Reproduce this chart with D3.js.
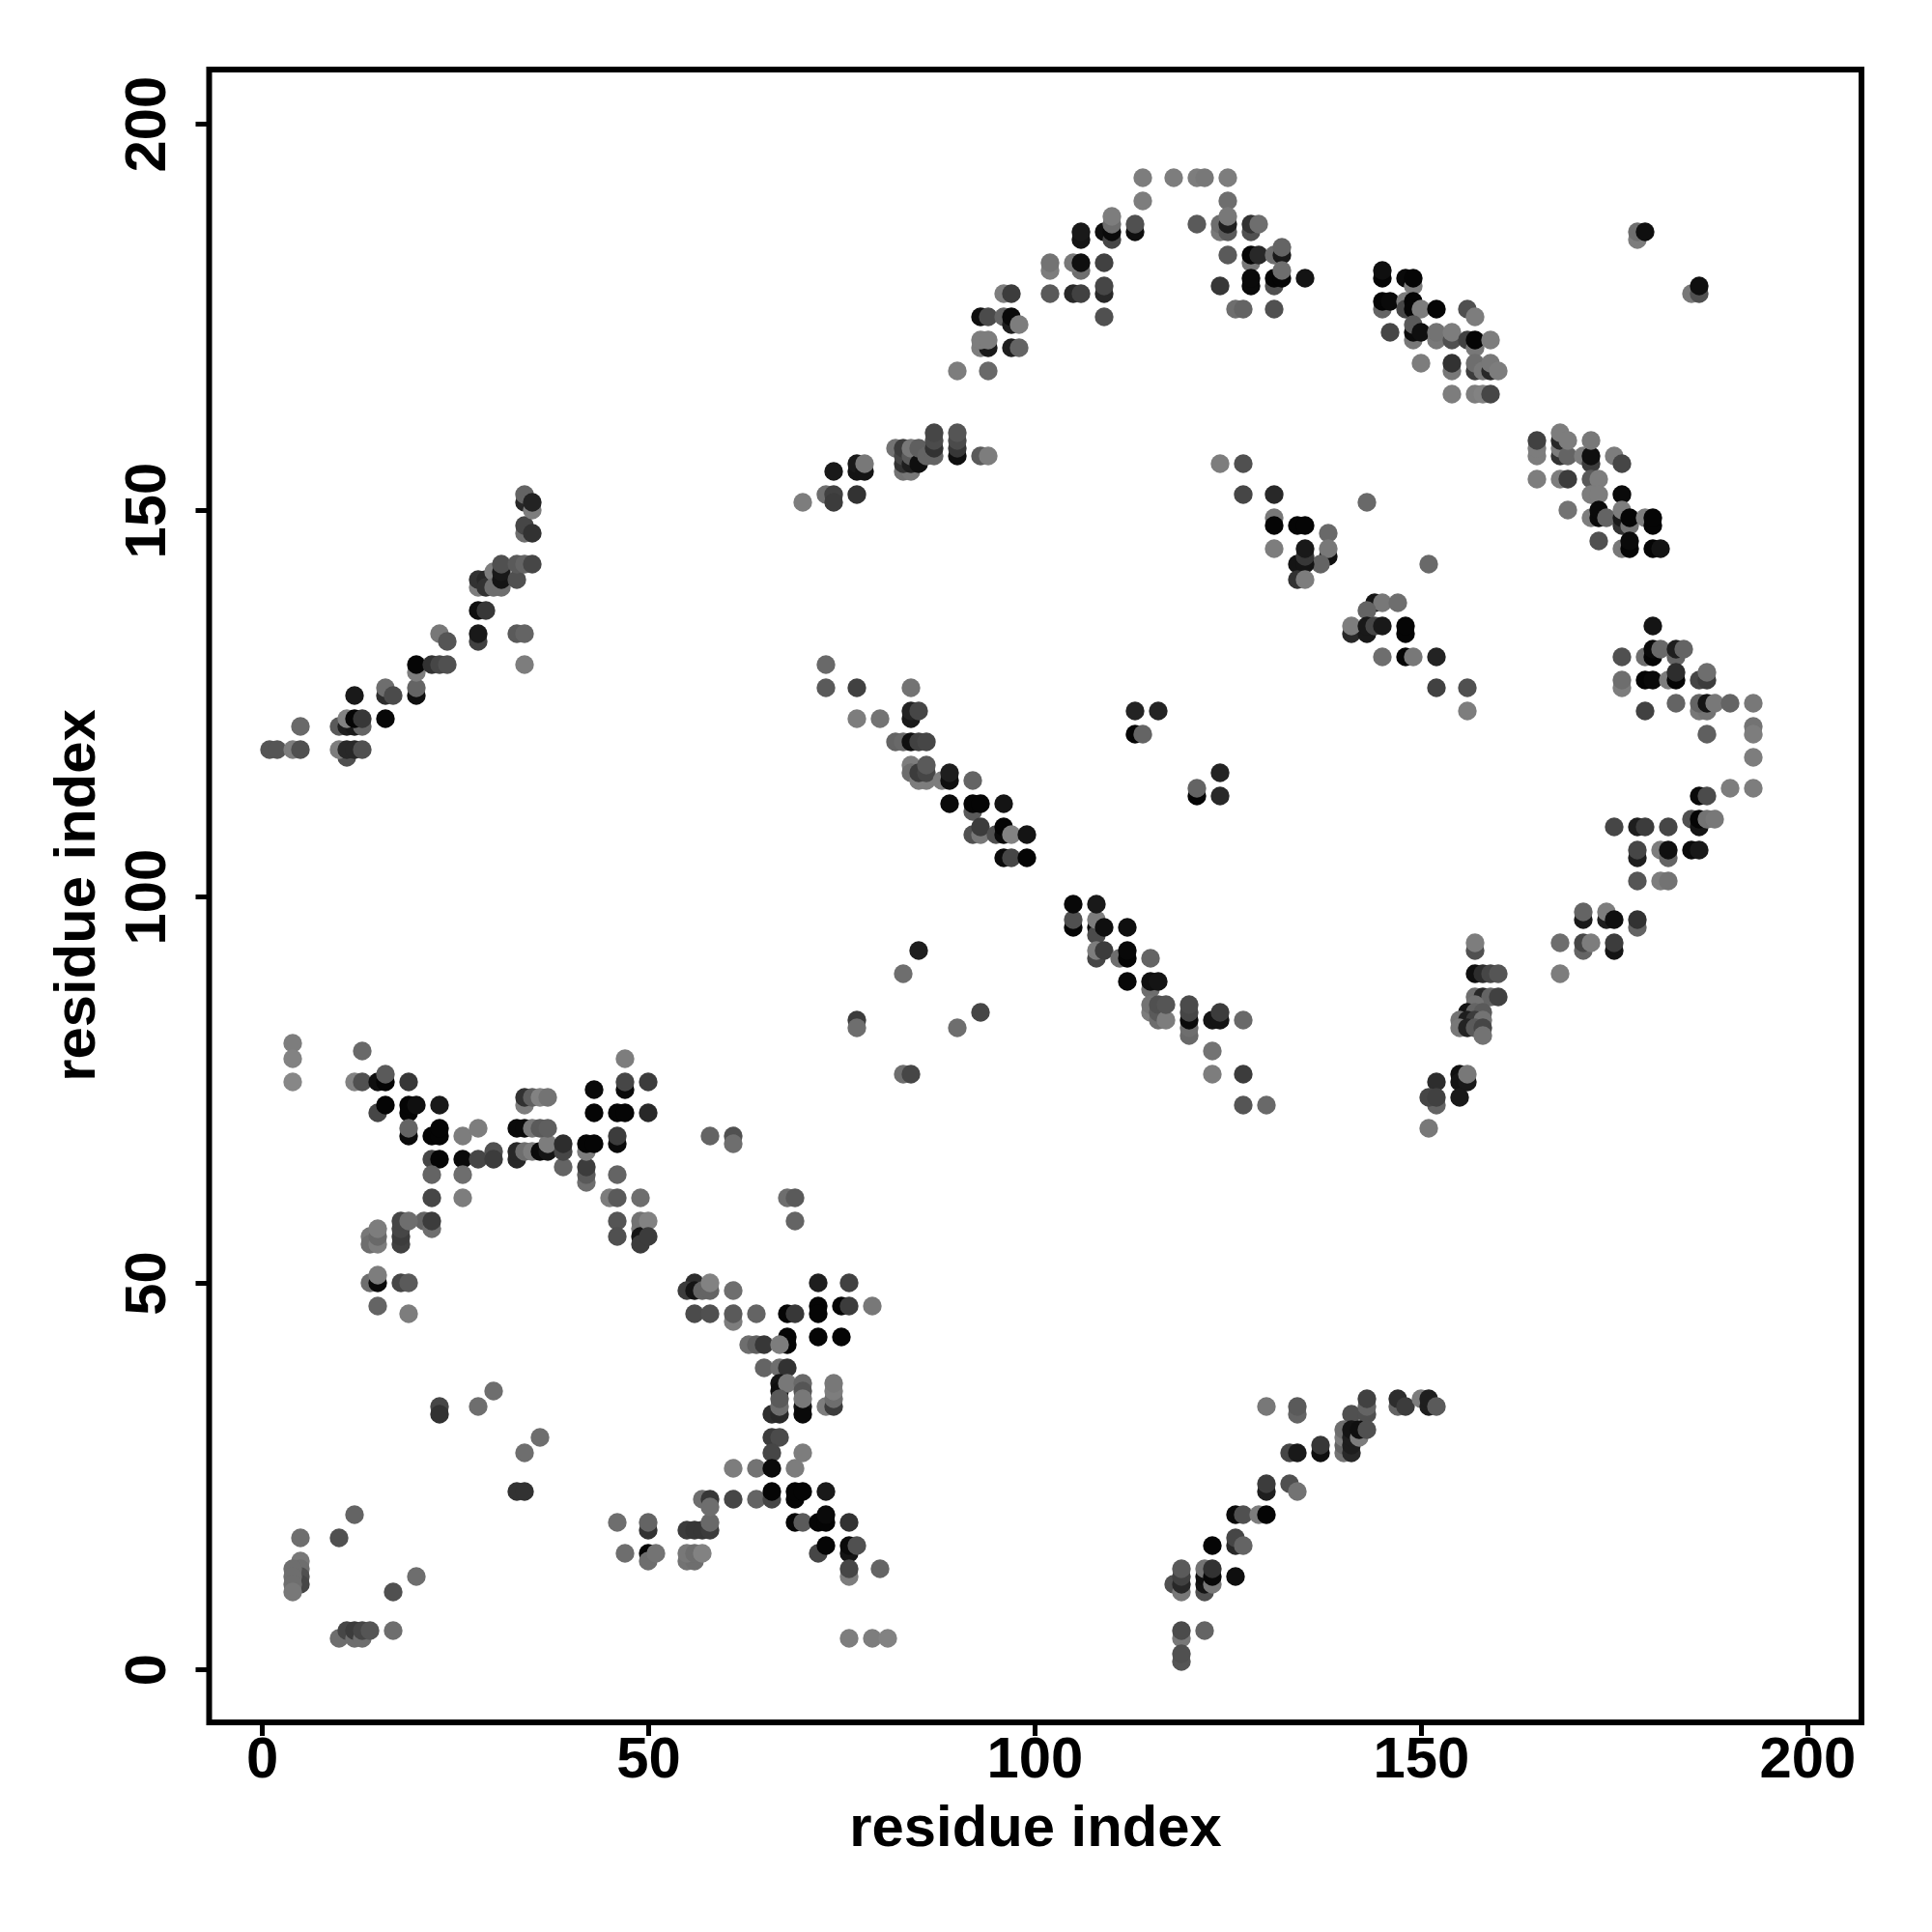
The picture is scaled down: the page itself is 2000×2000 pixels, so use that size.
<!DOCTYPE html>
<html><head><meta charset="utf-8">
<script src="https://cdnjs.cloudflare.com/ajax/libs/d3/7.8.5/d3.min.js"></script>
<style>html,body{margin:0;background:#fff}</style></head>
<body><div id="chart"></div>
<script>
// each contact: [residue i, residue j, level] (level 0 = darkest, 135 = palest)
const tickValues = [0, 50, 100, 150, 200];
const axisLabel = "residue index";
const bowtieLow = [
[4,81,125],[4,79,130],[4,76,135],[13,80,105],[12,76,130],[13,76,80],[15,76,15],[16,76,5],[16,77,90],[19,76,55],
[15,72,70],[16,73,5],[19,72,5],[19,73,5],[20,73,15],[23,73,25],[19,69,10],[19,70,100],[22,69,5],[23,69,5],[23,70,5],[26,69,125],[28,70,125],
[22,66,70],[23,66,5],[26,66,10],[28,66,70],[30,67,80],[30,66,60],[33,66,40],[33,67,40],[34,67,110],[35,67,125],[36,67,10],[37,67,20],[37,68,125],
[33,70,10],[34,70,10],[35,70,120],[36,70,90],[37,70,95],[34,73,125],[34,74,50],[35,74,95],[36,74,130],[37,74,115],
[39,65,100],[39,67,70],[39,68,45],[42,63,110],[42,64,90],[42,65,60],[42,67,125],[42,68,5],[43,68,5],[43,75,10],[43,72,5],
[46,72,5],[47,72,5],[47,75,10],[47,76,70],[47,79,125],[50,76,60],[50,72,40],[46,68,10],[46,69,60],[46,64,100],[45,61,125],[46,61,90],[49,61,110],
[46,58,85],[46,56,80],[49,57,120],[49,58,115],[49,56,20],[49,55,60],[50,58,130],[50,56,60],
[22,64,100],[26,64,110],[22,61,70],[26,61,125],[21,58,100],[22,57,110],[22,58,60],[18,55,65],[18,56,60],[18,57,70],[18,58,70],[19,58,110],
[14,56,120],[14,55,110],[15,55,125],[15,56,105],[15,57,125],[14,50,110],[15,50,10],[15,51,125],[18,50,70],[19,50,90],[15,47,100],[19,46,125]
];
const bowtieMid = [
[50,18,50],[50,19,100],[50,15,5],[50,14,110],[51,15,115],[55,18,60],[56,18,55],[57,18,55],[58,18,60],[58,19,105],[57,22,110],[58,22,55],[58,21,110],
[61,22,70],[64,22,100],[66,22,70],[66,23,5],[55,14,115],[56,14,110],[55,15,120],[56,15,110],[57,15,130],
[56,50,45],[72,50,30],[76,50,65],[55,49,60],[56,49,20],[57,49,100],[58,49,100],[58,50,130],[61,49,110],[56,46,75],[58,46,80],[61,45,125],[61,46,90],[64,46,100],
[68,46,5],[69,46,55],[72,47,5],[72,46,5],[75,47,5],[76,47,60],[79,47,120],[68,43,5],[68,42,5],[72,43,5],[75,43,5],[63,42,110],[64,42,95],[65,42,55],[67,42,125],
[65,39,100],[67,39,110],[68,39,50],[67,37,20],[67,36,15],[68,37,120],[70,34,20],[70,33,10],[70,37,105],[70,36,85],[70,35,120],[66,33,45],[67,33,40],[67,34,110],[67,35,90],
[73,34,125],[74,34,60],[74,35,110],[74,36,125],[74,37,120],[66,30,60],[67,30,75],[66,28,70],[70,28,125],[61,26,125],[64,26,115],[66,26,10],[69,26,125],
[69,22,5],[69,23,5],[70,23,5],[73,23,25],[69,19,5],[70,19,90],[72,19,5],[73,19,5],[73,20,10],[76,19,50],[72,15,70],[73,16,5],[76,15,20],[76,16,10],[77,16,80],
[76,12,125],[76,13,70],[80,13,100],[76,4,125],[79,4,125],[81,4,130]
];
const scatterLow = [
[23,34,70],[23,33,50],[28,34,110],[30,36,110],[36,30,110],[34,28,110],[33,23,50],[34,23,50],[5,17,110],[5,14,120],[5,13,110],[5,12,80],[5,11,70],
[4,13,110],[4,12,110],[4,11,110],[4,10,120],[10,17,80],[12,20,100],[20,12,110],[17,10,80],[10,4,110],[11,5,70],[12,4,110],[12,5,60],[13,4,110],[13,5,70],[14,5,85],[17,5,110],
[46,19,110],[47,15,110],[58,69,100],[61,69,80],[61,68,110],[68,61,110],[69,61,90],[69,58,100]
];
const strandLeft = [
[1,119,85],[2,119,85],[4,119,125],[5,119,80],[5,122,105],[11,118,80],[10,119,125],[11,119,40],[12,119,40],[13,119,80],
[10,122,90],[11,122,30],[12,122,25],[13,122,100],[11,123,130],[12,123,5],[13,123,55],[12,126,25],[16,126,45],[16,127,110],[17,126,75],[16,123,8],
[20,126,15],[20,127,100],[20,129,125],[20,130,5],[22,130,50],[23,130,70],[24,130,80],[23,134,120],[24,133,85],
[28,133,65],[28,134,25],[28,137,15],[29,137,55],[33,134,90],[34,134,100],[34,130,125],
[28,140,125],[28,141,50],[29,141,40],[29,140,50],[30,142,125],[30,140,110],[31,140,110],[31,141,20],[31,142,25],[31,143,80],[33,141,80],[33,143,90],[34,143,100],[35,143,70],
[34,147,110],[34,148,70],[35,147,50],[34,151,40],[35,150,125],[34,152,100],[35,151,35]
];
const arcTop = [
[70,151,125],[73,152,110],[74,152,65],[74,151,60],[77,152,50],[74,155,25],[77,155,20],[77,156,25],[78,155,20],[78,156,120],
[82,158,115],[83,155,115],[84,155,120],[83,156,50],[83,157,70],[83,158,60],[84,156,30],[84,157,90],[84,158,120],[85,156,15],[85,158,95],[86,157,100],
[87,157,100],[87,158,50],[87,159,75],[87,160,70],[90,157,15],[90,158,55],[90,159,75],[90,160,85],[93,157,90],[94,157,125],
[90,168,125],[94,168,105],[93,171,125],[94,171,25],[93,172,125],[94,172,125],[93,175,15],[94,175,75],[96,175,100],[97,174,30],[97,175,10],[98,174,125],[97,171,30],[98,171,100],[96,178,125],[97,178,60],
[102,178,90],[105,178,40],[106,178,65],[109,178,40],[109,179,70],[109,175,80],[102,181,125],[102,182,115],[106,181,110],[105,182,120],[106,182,15],[109,182,65],
[106,185,20],[106,186,25],[109,186,15],[110,185,70],[110,186,10],[110,187,110],[110,188,125],[113,186,15],[113,187,80],[114,190,125],[114,193,125],
[118,193,125],[121,193,125],[122,193,120],[125,193,125],[125,190,110],[121,187,90],[124,186,120],[124,187,110],[125,186,90],[125,187,30],[125,188,120],[128,186,80],[128,187,50],[129,187,110],
[125,183,90],[128,182,120],[128,183,5],[129,183,40],[131,183,110],[132,183,25],[132,184,100],[124,179,55],[128,179,10],[128,180,10],[131,179,80],[131,180,5],[132,180,5],[132,181,110],[135,180,20],
[126,176,110],[127,176,100],[131,176,80]
];
const strandRight = [
[145,176,100],[145,177,5],[146,177,10],[145,180,5],[145,181,15],[148,180,10],[149,179,125],[149,180,5],[148,177,125],[148,176,70],[149,177,5],[149,176,5],[150,176,125],[152,176,5],
[156,176,80],[157,175,125],[146,173,70],[149,172,120],[149,173,10],[149,174,90],[150,173,15],[152,172,120],[152,173,115],[154,172,80],[154,173,125],[156,172,65],[157,171,120],[157,172,5],[159,172,125],
[150,169,125],[154,168,120],[154,169,50],[157,168,60],[157,169,110],[158,168,120],[159,168,40],[159,169,120],[160,168,125],[154,165,125],[157,165,125],[158,165,130],[159,165,70],
[178,185,125],[178,186,110],[179,186,15],[185,178,120],[186,178,80],[186,179,15],
[165,154,125],[165,157,125],[165,158,125],[165,159,65],[168,157,50],[168,158,125],[168,159,40],[168,160,125],[169,157,100],[169,159,125],[168,154,125],[169,154,60],
[171,157,125],[172,156,60],[172,157,15],[172,159,120],[175,157,125],[176,156,70],[172,154,90],[173,154,125],[172,152,125],[173,152,125],[176,152,10],[169,150,115],
[172,149,125],[173,149,10],[173,150,10],[174,149,100],[176,148,50],[176,149,25],[176,150,125],[177,148,115],[177,149,5],[179,149,125],[180,148,5],[180,149,5],
[173,146,80],[176,145,120],[177,145,5],[177,146,10],[180,145,5],[181,145,20]
];
const crossUpper = [
[124,156,125],[127,156,80],[127,152,70],[131,152,40],[131,149,120],[131,148,5],[134,148,5],[135,148,5],[138,147,105],[131,145,125],[138,144,15],[138,145,120],[137,143,100],
[134,143,20],[135,143,20],[135,144,55],[135,145,25],[134,141,50],[135,141,125],[143,151,105],[151,143,105],
[144,138,20],[145,138,120],[147,138,110],[143,137,100],[141,134,40],[143,134,25],[148,134,5],[141,135,125],[143,135,25],[144,135,70],[145,135,25],[148,135,5],
[145,131,110],[148,131,5],[149,131,120],[152,131,35],[152,127,65],[156,127,80],[156,124,125]
];
const diagonal = [
[73,130,105],[73,127,90],[77,127,65],[84,127,115],[77,123,125],[80,123,115],[84,123,25],[84,124,35],[85,124,70],
[82,120,100],[83,120,105],[84,120,15],[85,120,65],[86,120,70],[84,117,125],[84,116,110],[85,115,125],[86,115,125],[85,116,60],[86,116,70],[86,117,90],[88,115,125],[89,115,15],[89,116,30],[92,115,100],
[92,111,90],[89,112,10],[92,112,5],[93,112,5],[96,112,20],[92,108,80],[93,108,120],[93,109,60],[95,108,80],[96,108,10],[96,109,5],[97,108,130],[99,108,20],[96,105,10],[97,105,70],[99,105,5],
[113,121,5],[114,121,100],[113,124,35],[116,124,35],[121,113,5],[121,114,100],[124,113,40],[124,116,35],
[105,96,5],[105,97,80],[105,99,8],[108,96,10],[108,95,75],[108,97,125],[108,99,25],[109,96,15],[112,96,15],[108,92,70],[108,93,125],[109,93,60],[111,92,110],[112,92,5],[112,93,8],[115,92,100],
[112,89,8],[115,88,110],[115,89,15],[116,89,20],[115,85,125],[115,86,115],[116,84,110],[116,85,90],[116,86,80],[117,84,125],[117,86,85],
[120,82,105],[120,83,110],[120,84,10],[120,85,70],[120,86,75],[123,84,20],[124,84,20],[124,85,60],[127,84,105],[123,80,115],[123,77,125],[127,77,60],[127,73,85],[130,73,105],
[85,93,30],[83,90,110],[77,84,60],[77,83,110],[90,83,110],[93,85,70],[83,77,110],[84,77,70]
];
const loopRight = [
[180,135,20],[179,131,110],[180,131,5],[180,132,10],[181,132,105],[183,131,100],[183,132,30],[184,132,100],[176,131,80],
[176,127,125],[176,128,110],[179,128,5],[180,128,10],[182,128,125],[183,128,5],[183,129,45],[186,128,70],[187,128,60],[187,129,110],
[179,124,65],[183,125,100],[186,124,120],[187,124,115],[186,125,100],[187,125,20],[188,125,120],[190,125,100],[193,125,120],[193,122,115],[193,121,125],[187,121,95],[193,118,125],[190,114,125],[193,114,125],
[186,113,10],[187,113,75],[185,110,80],[186,109,20],[186,110,5],[187,110,115],[188,110,120],[175,109,70],[178,109,30],[179,109,60],[182,109,70],
[178,105,30],[178,106,70],[181,106,125],[182,105,100],[182,106,15],[185,106,10],[186,106,25],[178,102,85],[181,102,125],[182,102,115],
[171,97,25],[171,98,100],[174,97,30],[174,98,125],[175,97,15],[178,96,100],[178,97,50],[168,94,110],[168,90,125],[171,93,100],[171,94,70],[172,94,125],[175,93,20],[175,94,60]
];
const strandDown = [
[157,93,80],[157,94,125],[157,90,15],[158,90,45],[159,90,70],[160,90,85],[157,87,110],[158,87,40],[159,87,100],[160,87,65],[157,86,115],[156,85,20],[157,85,100],[158,85,90],
[155,84,115],[156,84,30],[157,84,60],[158,84,115],[155,83,120],[156,83,35],[157,83,90],[158,83,70],[158,82,115],
[155,77,15],[155,76,20],[156,76,25],[156,77,120],[152,76,45],[152,73,100],[151,74,70],[152,74,65],[155,74,25],[151,70,120]
];
const strandLow = [
[130,34,120],[134,33,100],[134,34,90],[141,33,80],[143,33,80],[143,34,100],[143,35,65],[147,34,100],[147,35,45],[148,34,60],[150,35,125],[151,34,30],[151,35,30],[152,34,90],
[140,28,115],[140,29,100],[140,30,125],[140,31,110],[141,28,40],[141,29,30],[141,30,30],[141,31,20],[142,30,125],[142,31,15],[143,31,80],
[133,28,70],[134,28,25],[137,28,15],[137,29,55],[130,23,30],[130,24,60],[133,24,80],[134,23,115],
[126,20,10],[127,20,80],[129,20,125],[130,20,5],[126,16,40],[126,17,70],[127,16,100],[123,16,5],
[118,11,80],[119,10,120],[119,11,40],[119,12,65],[119,13,90],[122,10,80],[122,11,20],[122,12,15],[122,13,115],[123,11,120],[123,12,8],[123,13,50],[126,12,15],
[119,4,120],[119,5,75],[122,5,100],[119,1,85],[119,2,80]
];
const contacts = [...bowtieLow, ...bowtieMid, ...scatterLow, ...strandLeft, ...arcTop, ...strandRight, ...crossUpper, ...diagonal, ...loopRight, ...strandDown, ...strandLow];

const W = 2000, H = 2000;
const font = "'Liberation Sans', Arial, sans-serif";
const fontSize = "59.8px";
const x = d3.scaleLinear().domain([0, 200]).range([271, 1871]);
const y = d3.scaleLinear().domain([0, 200]).range([1728, 128]);
const shade = d3.scaleLinear().domain([0, 135]).range(["#000000", "#878787"]);

const svg = d3.select("#chart").append("svg").attr("width", W).attr("height", H).style("display", "block");
svg.append("rect").attr("width", W).attr("height", H).attr("fill", "#fff");

svg.append("g").selectAll("circle").data(contacts).join("circle")
  .attr("cx", d => x(d[0])).attr("cy", d => y(d[1])).attr("r", 9.7)
  .attr("fill", d => shade(d[2]));

const box = {l: 216.5, r: 1927, t: 72, b: 1783};
svg.append("rect").attr("x", box.l).attr("y", box.t).attr("width", box.r - box.l).attr("height", box.b - box.t)
  .attr("fill", "none").attr("stroke", "#000").attr("stroke-width", 6);

const xAxis = d3.axisBottom(x).tickValues(tickValues).tickSize(14).tickPadding(14).tickFormat(d3.format("d"));
const yAxis = d3.axisLeft(y).tickValues(tickValues).tickSize(14).tickPadding(0).tickFormat(d3.format("d"));
const gx = svg.append("g").attr("transform", `translate(0,${box.b})`).call(xAxis);
const gy = svg.append("g").attr("transform", `translate(${box.l},0)`).call(yAxis);
[gx, gy].forEach(g => {
  g.select(".domain").remove();
  g.selectAll("line").attr("stroke", "#000").attr("stroke-width", 5);
  g.selectAll("text").attr("fill", "#000").style("font-family", font).style("font-weight", "700").style("font-size", fontSize);
});
gx.selectAll("text").attr("dy", null).attr("y", null).attr("transform", "translate(0,57)").attr("text-anchor", "middle");
gy.selectAll("text").attr("x", null).attr("dy", null)
  .attr("transform", "translate(-46,0) rotate(-90)").attr("text-anchor", "middle");

svg.append("text").attr("x", 1072).attr("y", 1911).attr("text-anchor", "middle")
  .style("font-family", font).style("font-weight", "700").style("font-size", fontSize).text(axisLabel);
svg.append("text").attr("transform", "translate(98,927) rotate(-90)").attr("text-anchor", "middle")
  .style("font-family", font).style("font-weight", "700").style("font-size", fontSize).text(axisLabel);
</script></body></html>
